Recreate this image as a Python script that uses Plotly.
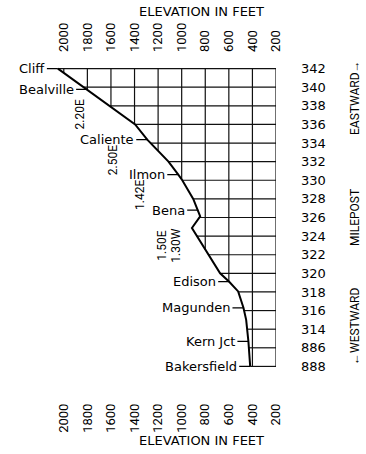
import plotly.graph_objects as go
import numpy as np

# ---------------- data ----------------
milepost_labels = ["342", "340", "338", "336", "334", "332", "330", "328", "326",
                   "324", "322", "320", "318", "316", "314", "886", "888"]
elev_ticks = [2000, 1800, 1600, 1400, 1200, 1000, 800, 600, 400, 200]

# profile of the line: row position (0 = MP 342 ... 16 = MP 888) and elevation (ft)
prof_row = [0, 1.12, 2, 3, 3.82, 5, 5.7, 6, 7, 7.6, 7.94, 8.56, 9, 10, 11, 11.45,
            11.97, 12.85, 13.5, 14.66, 16]
prof_elev = [2050, 1802, 1611, 1395, 1292, 1112, 1029, 995, 902, 860, 843, 913, 871,
             775, 674, 597, 521, 476, 453, 434, 419]

station_names = ["Cliff", "Bealville", "Caliente", "Ilmon", "Bena", "Edison",
                 "Magunden", "Kern Jct", "Bakersfield"]
station_rows = [0, 1.12, 3.82, 5.7, 7.6, 11.45, 12.85, 14.66, 16]

grade_labels = ["2.20E", "2.50E", "1.42E", "1.50E", "1.30W"]
grade_elev = [1860, 1588, 1355, 1165, 1046]
grade_rows = [2.45, 4.9, 6.8, 9.5, 9.5]

# ---------------- grid derived from profile ----------------
n_rows = len(milepost_labels)
bottom_elev = min(elev_ticks)
gx, gy = [], []
for r in range(n_rows):
    e0 = float(np.interp(r, prof_row, prof_elev))
    gx += [e0, bottom_elev, None]
    gy += [r, r, None]
for e in elev_ticks:
    r_end = n_rows - 1
    for i in range(len(prof_row) - 1):
        a, b = prof_elev[i], prof_elev[i + 1]
        if a >= e > b:
            r_end = prof_row[i] + (a - e) / (a - b) * (prof_row[i + 1] - prof_row[i])
            break
    gx += [e, e, None]
    gy += [0, r_end, None]

fig = go.Figure()
fig.add_trace(go.Scatter(x=gx, y=gy, mode="lines",
                         line=dict(color="#111", width=1.2),
                         hoverinfo="skip", showlegend=False))
fig.add_trace(go.Scatter(x=prof_elev, y=prof_row, mode="lines",
                         line=dict(color="black", width=2),
                         showlegend=False))

NARROW = "Roboto, sans-serif"
MAIN = "DejaVu Sans, Verdana, sans-serif"

# layout geometry (pixels)
ML, MR, MT, MB = 52, 90, 63, 82
W, H = 366, 454
PW, PH = W - ML - MR, H - MT - MB


def px_x(p):
    return (p - ML) / PW


def px_y(p):
    return 1 - (p - MT) / PH


annotations = []
for name, r in zip(station_names, station_rows):
    e = float(np.interp(r, prof_row, prof_elev))
    annotations.append(dict(x=e, y=r, xref="x", yref="y", text=name,
                            showarrow=True, arrowhead=0, arrowwidth=1.3,
                            arrowcolor="black", ax=-11, ay=0, xanchor="right",
                            font=dict(family=MAIN, size=13, color="black")))
for t, e, r in zip(grade_labels, grade_elev, grade_rows):
    annotations.append(dict(x=e, y=r, xref="x", yref="y", text=t, showarrow=False,
                            textangle=-90, xanchor="center", yanchor="middle",
                            font=dict(family=NARROW, size=12, color="black")))

for py in [11, 440]:
    annotations.append(dict(x=px_x(201), y=px_y(py), xref="paper", yref="paper",
                            text="ELEVATION IN FEET", showarrow=False,
                            xanchor="center", yanchor="middle",
                            font=dict(family=MAIN, size=13, color="black")))
for t, py in [("EASTWARD→", 98), ("MILEPOST", 218), ("←WESTWARD", 327)]:
    annotations.append(dict(x=px_x(355), y=px_y(py), xref="paper", yref="paper",
                            text=t, showarrow=False, textangle=-90,
                            xanchor="center", yanchor="middle",
                            font=dict(family=NARROW, size=12, color="black")))

xr = [2100, 200]
xcommon = dict(range=xr, tickvals=elev_ticks, ticktext=[str(v) for v in elev_ticks],
               tickangle=-90, showgrid=False, zeroline=False, showline=False,
               ticks="", automargin=False,
               tickfont=dict(family=NARROW, size=13, color="black"))

fig.update_layout(
    width=W, height=H,
    margin=dict(l=ML, r=MR, t=MT, b=MB),
    paper_bgcolor="white", plot_bgcolor="white",
    xaxis=dict(side="bottom", ticklabelstandoff=28, **xcommon),
    xaxis2=dict(side="top", overlaying="x", matches="x", ticklabelstandoff=10, **xcommon),
    yaxis=dict(range=[16.3, -0.3], tickvals=list(range(n_rows)),
               ticktext=milepost_labels, side="right", showgrid=False,
               zeroline=False, showline=False, ticks="", ticklabelstandoff=24,
               automargin=False,
               tickfont=dict(family=MAIN, size=13, color="black")),
    annotations=annotations,
    showlegend=False,
)
fig.add_trace(go.Scatter(x=[None], y=[None], xaxis="x2", showlegend=False,
                         hoverinfo="skip"))

fig.write_html("out.html", config={"displayModeBar": False},
               post_script="document.body.style.margin='0px';")
